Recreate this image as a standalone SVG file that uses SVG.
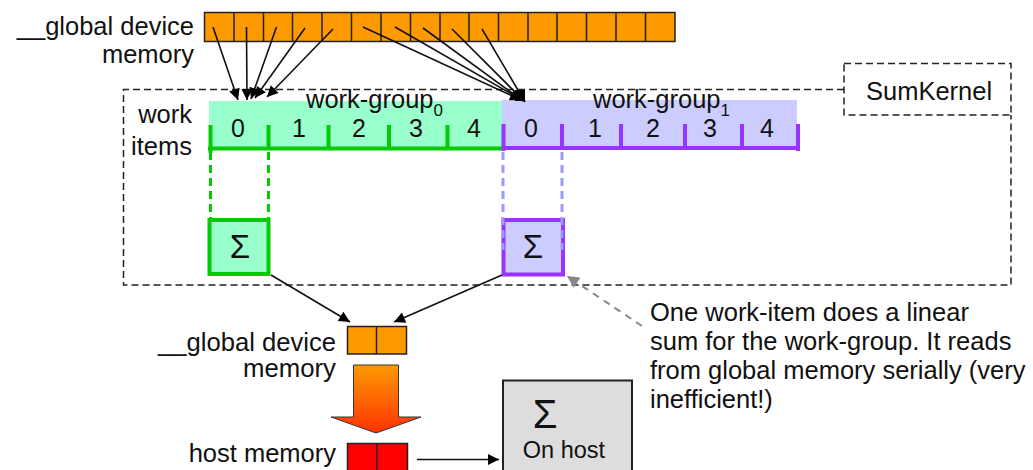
<svg xmlns="http://www.w3.org/2000/svg" width="1033" height="470" viewBox="0 0 1033 470">
<style>
.t{font-family:"Liberation Sans",Arial,sans-serif;font-size:25.5px;fill:#111}
.n{font-family:"Liberation Sans",Arial,sans-serif;font-size:25px;fill:#111;text-anchor:middle}
.s{font-family:"Liberation Sans",Arial,sans-serif;fill:#111;text-anchor:middle}
.r{text-anchor:end}
.cell{fill:#FF9900;stroke:#222;stroke-width:1.5}
.arr{stroke:#111;stroke-width:1.6;fill:none}
.dash{fill:none;stroke:#222;stroke-width:1.5;stroke-dasharray:7,4}
.gb{stroke:#00CC00;stroke-width:4;fill:none}
.pb{stroke:#9933FF;stroke-width:4;fill:none}
</style>
<defs>
<marker id="ah" viewBox="0 0 10 10" refX="10" refY="5" markerWidth="12" markerHeight="11" markerUnits="userSpaceOnUse" orient="auto">
<path d="M0,0 L10,5 L0,10 z" fill="#000"/>
</marker>
<marker id="ahg" viewBox="0 0 10 10" refX="10" refY="5" markerWidth="13" markerHeight="12" markerUnits="userSpaceOnUse" orient="auto">
<path d="M0,0 L10,5 L0,10 z" fill="#888"/>
</marker>
<linearGradient id="grad" x1="0" y1="0" x2="0" y2="1">
<stop offset="0" stop-color="#FF9900"/>
<stop offset="1" stop-color="#FF3300"/>
</linearGradient>
</defs>
<rect width="1033" height="470" fill="#fff"/>

<g id="global-memory-top">
<text class="t r" x="194" y="35">__global device</text>
<text class="t r" x="194" y="63">memory</text>
<rect class="cell" x="204.5" y="12.5" width="470.5" height="29"/>
<path d="M234 12.5V41.5M263.5 12.5V41.5M292.5 12.5V41.5M322 12.5V41.5M351.5 12.5V41.5M381 12.5V41.5M410.5 12.5V41.5M440 12.5V41.5M469 12.5V41.5M498.5 12.5V41.5M528 12.5V41.5M557 12.5V41.5M586.5 12.5V41.5M616 12.5V41.5M645.5 12.5V41.5" stroke="#222" stroke-width="1.5"/>
</g>

<g id="sumkernel">
<path class="dash" d="M844 89.5H123.5V285H1011V115"/>
<rect class="dash" x="844" y="63.5" width="167" height="51.5"/>
<text class="t" x="866" y="100">SumKernel</text>
</g>

<g id="work-items-label">
<text class="t r" x="192" y="123">work</text>
<text class="t r" x="192" y="155">items</text>
</g>

<g id="work-group-0">
<rect x="209" y="101" width="293" height="47" fill="#99FFCC"/>
<text class="t" x="306" y="108">work-group<tspan font-size="17" dy="8">0</tspan></text>
<text class="n" x="238" y="137">0</text>
<text class="n" x="299" y="137">1</text>
<text class="n" x="359" y="137">2</text>
<text class="n" x="416" y="137">3</text>
<text class="n" x="474" y="137">4</text>
<path class="gb" d="M208 148.5H503M210.5 125V153M268.5 125V150M328.5 125V150M389 125V150M447.5 125V150"/>
</g>

<g id="work-group-1">
<rect x="502" y="100" width="295" height="48" fill="#CCCCFF"/>
<text class="t" x="593" y="108">work-group<tspan font-size="17" dy="8">1</tspan></text>
<text class="n" x="531" y="137">0</text>
<text class="n" x="595" y="137">1</text>
<text class="n" x="653" y="137">2</text>
<text class="n" x="710" y="137">3</text>
<text class="n" x="767" y="137">4</text>
<path class="pb" d="M502 148H800M503.5 124V151M562 124V150M621 124V150M685 124V150M742 124V150M798 124V151"/>
</g>

<g id="sum-0">
<path d="M210.5 152V218M268.5 152V218" stroke="#00CC00" stroke-width="3" stroke-dasharray="8,5" fill="none"/>
<rect x="209.5" y="220" width="59" height="54" fill="#99FFCC" stroke="#00CC00" stroke-width="4"/>
<text class="s" x="240" y="258" font-size="33">Σ</text>
</g>

<g id="sum-1">
<rect x="503.5" y="220" width="59.5" height="54.5" fill="#CCCCFF" stroke="#9933FF" stroke-width="4"/>
<path d="M503 152V250M562 152V250" stroke="#9999FF" stroke-width="3" stroke-dasharray="8,5" fill="none"/>
<text class="s" x="533" y="258" font-size="33">Σ</text>
</g>

<g id="global-memory-result">
<text class="t r" x="336" y="350.5" font-size="23.5" textLength="178" lengthAdjust="spacingAndGlyphs">__global device</text>
<text class="t r" x="336" y="377" font-size="23.5" textLength="93" lengthAdjust="spacingAndGlyphs">memory</text>
<rect class="cell" x="347.5" y="326.5" width="59" height="27.5"/>
<path d="M376.5 326.5V354" stroke="#222" stroke-width="1.5"/>
</g>

<g id="transfer-arrow">
<polygon points="353.5,365 398.5,365 398.5,417 421,417 376,433 331,417 353.5,417" fill="url(#grad)" stroke="#333" stroke-width="1"/>
</g>

<g id="host-memory">
<text class="t r" x="336" y="462">host memory</text>
<rect x="347.5" y="443.5" width="60" height="40" fill="#FF0000" stroke="#222" stroke-width="1.5"/>
<path d="M377 443.5V475" stroke="#222" stroke-width="1.5"/>
</g>

<g id="on-host">
<rect x="503" y="380.5" width="129" height="100" fill="#DDDDDD" stroke="#222" stroke-width="2"/>
<text class="s" x="545" y="428" font-size="40">Σ</text>
<text class="s" x="564" y="458" font-size="23.5">On host</text>
</g>

<g id="note">
<text class="t" x="650" y="321">One work-item does a linear</text>
<text class="t" x="650" y="350">sum for the work-group. It reads</text>
<text class="t" x="650" y="379">from global memory serially (very</text>
<text class="t" x="650" y="408">inefficient!)</text>
</g>

<g id="connectors">
<line class="arr" x1="213" y1="27" x2="238" y2="100" marker-end="url(#ah)"/>
<line class="arr" x1="246.5" y1="27" x2="247" y2="100" marker-end="url(#ah)"/>
<line class="arr" x1="276.5" y1="27" x2="251" y2="99" marker-end="url(#ah)"/>
<line class="arr" x1="305" y1="28" x2="255" y2="98" marker-end="url(#ah)"/>
<line class="arr" x1="333" y1="29" x2="267" y2="97" marker-end="url(#ah)"/>
<line class="arr" x1="363" y1="27" x2="521" y2="100" marker-end="url(#ah)"/>
<line class="arr" x1="395" y1="27" x2="522" y2="100" marker-end="url(#ah)"/>
<line class="arr" x1="423" y1="28" x2="523" y2="101" marker-end="url(#ah)"/>
<line class="arr" x1="452" y1="29" x2="524" y2="101" marker-end="url(#ah)"/>
<line class="arr" x1="482" y1="29" x2="525" y2="102" marker-end="url(#ah)"/>
<rect x="515" y="90" width="10" height="11" fill="#000"/>
<line class="arr" x1="271" y1="275" x2="350" y2="322" marker-end="url(#ah)"/>
<line class="arr" x1="502" y1="275" x2="394" y2="322" marker-end="url(#ah)"/>
<line class="arr" x1="417" y1="459.5" x2="499" y2="459.5" marker-end="url(#ah)"/>
<line x1="642" y1="326" x2="567" y2="276" stroke="#888" stroke-width="2" stroke-dasharray="7,6" marker-end="url(#ahg)"/>
</g>
</svg>
